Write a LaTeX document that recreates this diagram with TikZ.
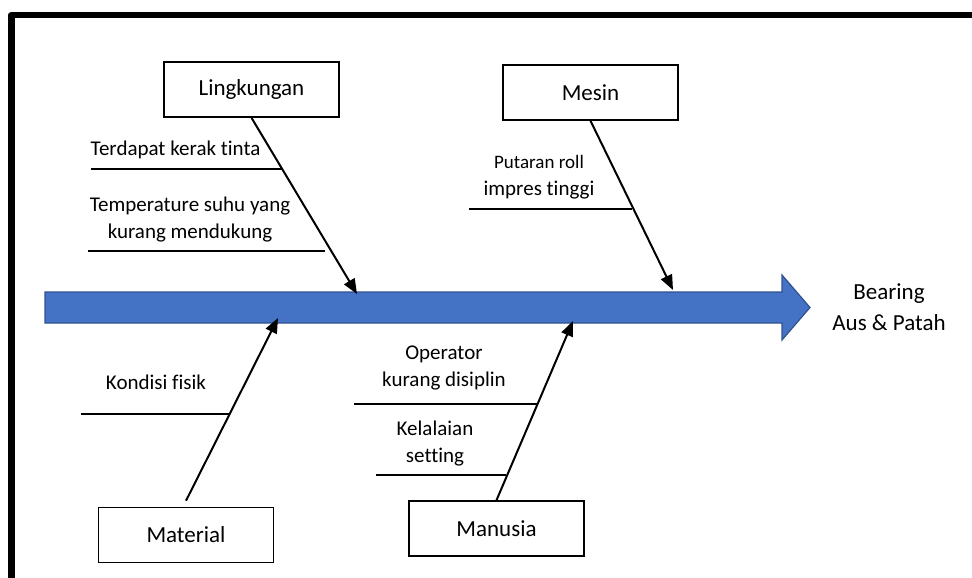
\documentclass[tikz,border=0pt]{standalone}
\usepackage{fontspec}
\setmainfont{Carlito}[Ligatures={NoCommon}]
\usetikzlibrary{arrows.meta,calc}
\definecolor{spineblue}{HTML}{4472C4}
\definecolor{spineedge}{HTML}{2F528F}
\begin{document}
\begin{tikzpicture}[x=1pt,y=-1pt,
  catbox/.style={draw,line width=1.6pt,minimum width=175pt,minimum height=55pt,inner sep=0pt,font=\fontsize{23}{28}\selectfont},
  bone/.style={line width=2pt,-{Triangle[length=15pt,width=12pt]}},
  twig/.style={line width=2pt},
  cause/.style={align=center,inner sep=0pt,font=\fontsize{21}{27}\selectfont},
  result/.style={align=center,inner sep=0pt,font=\fontsize{23}{31}\selectfont},
]
\useasboundingbox (0,0) rectangle (972,578);
\fill[white] (0,0) rectangle (972,578);
% frame
\draw[line width=6.5pt,line join=round] (11.5,580) -- (11.5,15) -- (975,15);
% spine
\draw[fill=spineblue,draw=spineedge,line width=1.2pt]
  (45,292) -- (782,292) -- (782,275) -- (810,307.5) -- (782,340) -- (782,323) -- (45,323) -- cycle;
% category boxes
\node[catbox] (L)  at (251.5,89.5) {Lingkungan};
\node[catbox] (M)  at (590.5,92.5) {Mesin};
\node[catbox] (Ma) at (186,535)    {Material};
\node[catbox] (Mn) at (496.5,528.5){Manusia};
% bone tips on the spine
\coordinate (Ltip)  at (357,294);
\coordinate (Mtip)  at (673,290);
\coordinate (Matip) at (278,318);
\coordinate (Mntip) at (573,321);
\draw[bone] (L.south) -- (Ltip);
\draw[bone] (M.south) -- (Mtip);
\draw[bone] ($(Ma.north)+(0,-6)$) -- (Matip);
\draw[bone] (Mn.north) -- (Mntip);
% twigs
\coordinate (a1) at (91,169);  \coordinate (b1) at (282.5,169);
\coordinate (a2) at (88,251);  \coordinate (b2) at (325,251);
\coordinate (a3) at (469,209); \coordinate (b3) at (632,209);
\coordinate (a4) at (81,414);  \coordinate (b4) at (230,414);
\coordinate (a5) at (354,404); \coordinate (b5) at (537,404);
\coordinate (a6) at (376,475); \coordinate (b6) at (506,475);
\draw[twig] (a1) -- (b1);
\draw[twig] (a2) -- (b2);
\draw[twig] (a3) -- (b3);
\draw[twig] (a4) -- (b4);
\draw[twig] (a5) -- (b5);
\draw[twig] (a6) -- (b6);
% cause texts
\node[cause] (c1) at (175.5,150) {Terdapat kerak tinta};
\node[cause] (c2) at (190,220) {Temperature suhu yang\\kurang mendukung};
\node[cause] (c3) at (539,177) {{\fontsize{19}{27}\selectfont Putaran roll}\\impres tinggi};
\node[cause] (c4) at (156,382) {Kondisi fisik};
\node[cause] (c5) at (444,367.5) {Operator\\kurang disiplin};
\node[cause] (c6) at (435,444) {Kelalaian\\setting};
\node[result] (res) at (889,307.5) {Bearing\\Aus \& Patah};
\end{tikzpicture}
\end{document}
